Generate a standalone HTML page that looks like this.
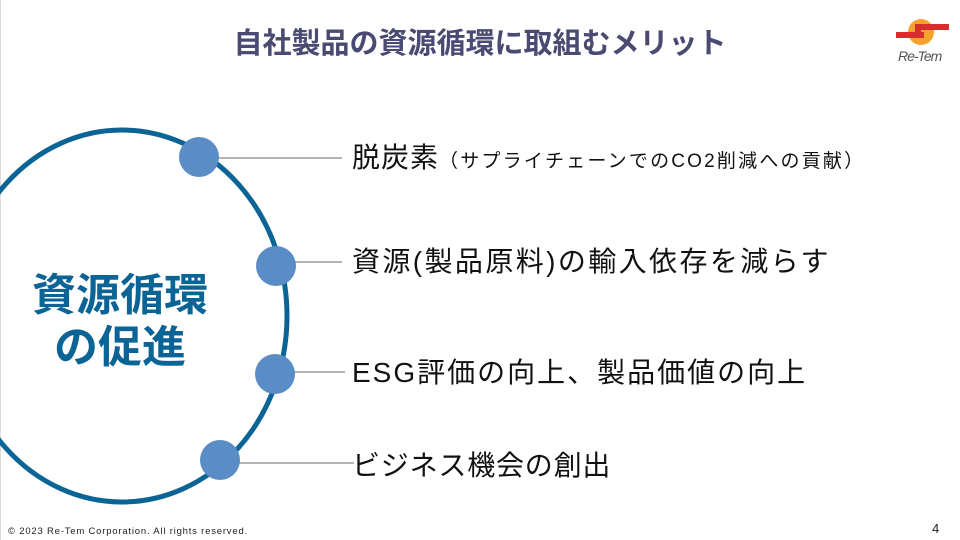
<!DOCTYPE html>
<html><head><meta charset="utf-8"><style>
body{margin:0;width:960px;height:540px;background:#fff;position:relative;overflow:hidden;font-family:"Liberation Sans","Noto Sans CJK JP",sans-serif}
.t{position:absolute;white-space:nowrap}
</style></head><body>
<div style="position:absolute;left:0;top:0;width:1px;height:540px;background:#ddd"></div>
<div class="t" style="left:0;width:960px;text-align:center;top:24px;font-size:29px;font-weight:bold;color:#4a4a72;line-height:40px">自社製品の資源循環に取組むメリット</div>
<svg width="960" height="540" style="position:absolute;left:0;top:0">
<ellipse cx="122" cy="316" rx="165" ry="186" fill="none" stroke="#0a6496" stroke-width="5"/>
<g stroke="#888" stroke-width="1.2">
<line x1="198" y1="158" x2="342" y2="158"/>
<line x1="276" y1="262" x2="342" y2="262"/>
<line x1="276" y1="372" x2="345" y2="372"/>
<line x1="220" y1="463" x2="354" y2="463"/>
</g>
<g fill="#5a8dc5">
<circle cx="199" cy="157" r="20"/>
<circle cx="276" cy="266" r="20"/>
<circle cx="275" cy="374" r="20"/>
<circle cx="220" cy="460" r="20"/>
</g>
<g transform="translate(893,14)">
<circle cx="28" cy="18" r="13" fill="#f5a22a"/>
<rect x="3" y="18" width="28" height="6" fill="#d42e2e"/>
<rect x="24" y="10" width="32" height="6" fill="#d42e2e"/>
<rect x="22" y="10" width="6" height="14" fill="#d42e2e"/>
</g>
</svg>
<div class="t" style="left:898px;top:48px;font-size:14px;font-style:italic;color:#555;letter-spacing:-1px">Re-Tem</div>
<div class="t" style="left:0;width:240px;text-align:center;top:270px;font-size:44px;font-weight:bold;color:#0a6496;line-height:52px">資源循環<br>の促進</div>
<div class="t" style="left:352px;top:140px;font-size:28px;color:#111;line-height:36px;letter-spacing:1px">脱炭素<span style="font-size:19px;letter-spacing:2.2px">（サプライチェーンでのCO2削減への貢献）</span></div>
<div class="t" style="left:352px;top:244px;font-size:28px;color:#111;line-height:36px;letter-spacing:2.4px">資源(製品原料)の輸入依存を減らす</div>
<div class="t" style="left:352px;top:355px;font-size:28px;color:#111;line-height:36px;letter-spacing:2px">ESG評価の向上、製品価値の向上</div>
<div class="t" style="left:352px;top:448px;font-size:28px;color:#111;line-height:36px;letter-spacing:0.8px">ビジネス機会の創出</div>
<div class="t" style="left:8px;top:526px;font-size:9.5px;color:#222;letter-spacing:0.8px">© 2023 Re-Tem Corporation. All rights reserved.</div>
<div class="t" style="left:932px;top:521px;font-size:13px;color:#222">4</div>
</body></html>
